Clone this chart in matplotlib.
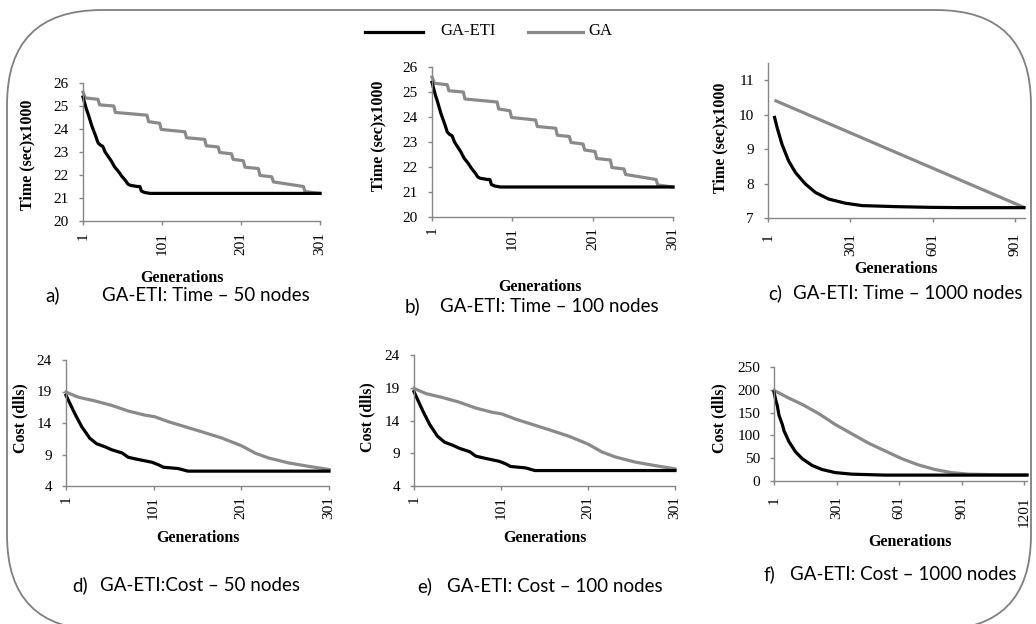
import matplotlib
matplotlib.use("Agg")
import matplotlib.pyplot as plt
from matplotlib.patches import FancyBboxPatch

# ---- data ----
# a) Time - 50 nodes
time50_ga_gen = [1, 4, 20, 22, 40, 42, 82, 84, 98, 100, 130, 132, 155, 157, 172, 174,
                 189, 191, 204, 206, 223, 225, 240, 242, 280, 282, 301]
time50_ga_val = [25.60, 25.35, 25.29, 25.05, 25.00, 24.72, 24.60, 24.32, 24.25, 23.98,
                 23.88, 23.62, 23.55, 23.27, 23.22, 22.98, 22.92, 22.68, 22.62, 22.34,
                 22.28, 21.98, 21.92, 21.70, 21.50, 21.28, 21.20]
time50_eti_gen = [1, 5, 8, 12, 17, 20, 23, 26, 29, 33, 37, 41, 46, 50, 55, 58, 61, 70,
                  73, 75, 79, 86, 301]
time50_eti_val = [25.39, 24.90, 24.60, 24.15, 23.70, 23.40, 23.30, 23.25, 23.00, 22.80,
                  22.60, 22.35, 22.15, 21.95, 21.75, 21.60, 21.55, 21.50, 21.50, 21.30,
                  21.24, 21.20, 21.20]

# b) Time - 100 nodes (drawn identically in the source figure)
time100_ga_gen = list(time50_ga_gen)
time100_ga_val = list(time50_ga_val)
time100_eti_gen = list(time50_eti_gen)
time100_eti_val = list(time50_eti_val)

# c) Time - 1000 nodes
time1000_ga_gen = [30, 934]
time1000_ga_val = [10.40, 7.31]
time1000_eti_gen = [25, 34, 52, 76, 101, 137, 174, 222, 283, 344, 466, 588, 709, 934]
time1000_eti_val = [9.92, 9.63, 9.14, 8.66, 8.32, 7.99, 7.74, 7.55, 7.43, 7.36, 7.33,
                    7.31, 7.30, 7.30]

# d) Cost - 50 nodes
cost50_ga_gen = [1, 15, 34, 53, 72, 91, 102, 118, 137, 156, 179, 201, 217, 232, 255,
                 277, 301]
cost50_ga_val = [18.9, 18.1, 17.5, 16.8, 15.9, 15.25, 15.0, 14.2, 13.4, 12.6, 11.6,
                 10.4, 9.2, 8.45, 7.66, 7.14, 6.62]
cost50_eti_gen = [1, 11, 19, 28, 36, 46, 53, 65, 72, 84, 99, 106, 112, 129, 140, 301]
cost50_eti_val = [18.4, 15.5, 13.4, 11.6, 10.7, 10.2, 9.76, 9.24, 8.56, 8.19, 7.77,
                  7.40, 6.98, 6.77, 6.36, 6.36]

# e) Cost - 100 nodes (same curves as d)
cost100_ga_gen = list(cost50_ga_gen)
cost100_ga_val = list(cost50_ga_val)
cost100_eti_gen = list(cost50_eti_gen)
cost100_eti_val = list(cost50_eti_val)

# f) Cost - 1000 nodes
cost1000_ga_gen = [1, 73, 136, 216, 295, 374, 454, 533, 613, 692, 772, 851, 931,
                   1089, 1213]
cost1000_ga_val = [198.6, 181.6, 168.0, 147.6, 123.8, 103.4, 83.0, 66.0, 49.0, 35.4,
                   25.2, 18.4, 15.0, 13.6, 13.6]
cost1000_eti_gen = [1, 9, 17, 25, 41, 49, 73, 104, 136, 184, 231, 295, 374, 533, 1213]
cost1000_eti_val = [195.0, 178.0, 164.6, 144.0, 123.8, 110.0, 86.0, 64.0, 49.0, 34.0,
                    25.2, 18.4, 15.0, 12.9, 12.9]

series_labels = ["GA-ETI", "GA"]
captions = ["GA-ETI: Time \u2013 50 nodes", "GA-ETI: Time \u2013 100 nodes",
            "GA-ETI: Time \u2013 1000 nodes", "GA-ETI:Cost \u2013 50 nodes",
            "GA-ETI: Cost \u2013 100 nodes", "GA-ETI: Cost \u2013 1000 nodes"]
letters = ["a)", "b)", "c)", "d)", "e)", "f)"]

# ---- styling ----
W, H = 1036, 624
SERIF = "Liberation Serif"
SANS = "Lato"
GRAY_LINE = "#8a8a8a"
AXIS_COL = "#868686"
FRAME_COL = "#808080"
LW = 2.3


def rect(x0, y0, x1, y1):
    # pixel box (top-left origin) -> figure fraction
    return [x0 / W, 1 - y1 / H, (x1 - x0) / W, (y1 - y0) / H]


def fx(x):
    return x / W


def fy(y):
    return 1 - y / H


fig = plt.figure(figsize=(W / 100, H / 100), dpi=100)

# rounded frame around the whole figure (pixel units, y up)
bg = fig.add_axes([0, 0, 1, 1], zorder=-1)
bg.set_xlim(0, W)
bg.set_ylim(0, H)
bg.axis("off")
bg.add_patch(FancyBboxPatch((7, H - 630), 1024, 620,
                            boxstyle="round,pad=0,rounding_size=95",
                            facecolor="none", edgecolor=FRAME_COL, linewidth=1.3))

# legend at the top (drawn by hand to match spacing)
bg.plot([365, 423], [H - 32, H - 32], color="black", linewidth=LW)
bg.text(440, H - 35, series_labels[0], family=SERIF, fontsize=12, ha="left", va="baseline")
bg.plot([528, 583], [H - 32, H - 32], color=GRAY_LINE, linewidth=LW)
bg.text(588, H - 35, series_labels[1], family=SERIF, fontsize=12, ha="left", va="baseline")

panels = [
    dict(rect=rect(83, 83, 320, 221), ga=(time50_ga_gen, time50_ga_val),
         eti=(time50_eti_gen, time50_eti_val), xlim=(1, 301), xticks=[1, 101, 201, 301],
         ylim=(20, 26), yticks=range(20, 27), ylabel="Time (sec)x1000",
         ylab=(27, 155), xlab=(182, 278), cap=(45, 102, 301), xpad=5),
    dict(rect=rect(432, 67, 673, 217), ga=(time100_ga_gen, time100_ga_val),
         eti=(time100_eti_gen, time100_eti_val), xlim=(1, 301), xticks=[1, 101, 201, 301],
         ylim=(20, 26), yticks=range(20, 27), ylabel="Time (sec)x1000",
         ylab=(378, 136), xlab=(540, 287), cap=(405, 440, 312), xpad=4),
    dict(rect=rect(768, 63, 1025, 218), ga=(time1000_ga_gen, time1000_ga_val),
         eti=(time1000_eti_gen, time1000_eti_val), xlim=(1, 938),
         xticks=[1, 301, 601, 901], ylim=(7, 11.5), yticks=range(7, 12),
         ylabel="Time (sec)x1000", ylab=(720, 138), xlab=(896, 269),
         cap=(768, 793, 299), xpad=8),
    dict(rect=rect(66, 360, 329, 486), ga=(cost50_ga_gen, cost50_ga_val),
         eti=(cost50_eti_gen, cost50_eti_val), xlim=(1, 301), xticks=[1, 101, 201, 301],
         ylim=(4, 24), yticks=[4, 9, 14, 19, 24], ylabel="Cost (dlls)",
         ylab=(20, 418), xlab=(198, 538), cap=(72, 100, 591), xpad=4),
    dict(rect=rect(414, 355, 675, 486), ga=(cost100_ga_gen, cost100_ga_val),
         eti=(cost100_eti_gen, cost100_eti_val), xlim=(1, 301), xticks=[1, 101, 201, 301],
         ylim=(4, 24), yticks=[4, 9, 14, 19, 24], ylabel="Cost (dlls)",
         ylab=(367, 417), xlab=(545, 538), cap=(417, 447, 592), xpad=4),
    dict(rect=rect(774, 367, 1027, 481), ga=(cost1000_ga_gen, cost1000_ga_val),
         eti=(cost1000_eti_gen, cost1000_eti_val), xlim=(1, 1213),
         xticks=[1, 301, 601, 901, 1201], ylim=(0, 250), yticks=range(0, 251, 50),
         ylabel="Cost (dlls)", ylab=(719, 418), xlab=(910, 542),
         cap=(763, 790, 580), xpad=8),
]

for i, p in enumerate(panels):
    ax = fig.add_axes(p["rect"])
    ax.plot(p["ga"][0], p["ga"][1], color=GRAY_LINE, linewidth=LW, solid_joinstyle="round",
            clip_on=False)
    ax.plot(p["eti"][0], p["eti"][1], color="black", linewidth=LW, solid_joinstyle="round",
            clip_on=False)
    ax.set_xlim(*p["xlim"])
    ax.set_ylim(*p["ylim"])
    ax.set_xticks(p["xticks"])
    ax.set_xticklabels([str(t) for t in p["xticks"]], rotation=90, family=SERIF, fontsize=11)
    ax.set_yticks(list(p["yticks"]))
    ax.set_yticklabels([str(t) for t in p["yticks"]], family=SERIF, fontsize=11)
    for side in ["top", "right"]:
        ax.spines[side].set_visible(False)
    for side in ["left", "bottom"]:
        ax.spines[side].set_color(AXIS_COL)
        ax.spines[side].set_linewidth(1.0)
    ax.tick_params(axis="both", direction="out", length=3, width=1.0, color=AXIS_COL)
    ax.tick_params(axis="x", pad=p["xpad"])
    ax.tick_params(axis="y", pad=7)
    ax.patch.set_alpha(0)

    fig.text(fx(p["ylab"][0]), fy(p["ylab"][1]), p["ylabel"], rotation=90, ha="center",
             va="center", family=SERIF, fontweight="bold", fontsize=11.5)
    fig.text(fx(p["xlab"][0]), fy(p["xlab"][1]), "Generations", ha="center", va="center",
             family=SERIF, fontweight="bold", fontsize=11.5)
    cx0, cx1, cy = p["cap"]
    fig.text(fx(cx0), fy(cy), letters[i], ha="left", va="baseline", family=SANS,
             fontsize=13.5)
    fig.text(fx(cx1), fy(cy), captions[i], ha="left", va="baseline", family=SANS,
             fontsize=13.5)

fig.savefig("out.png", dpi=100)
